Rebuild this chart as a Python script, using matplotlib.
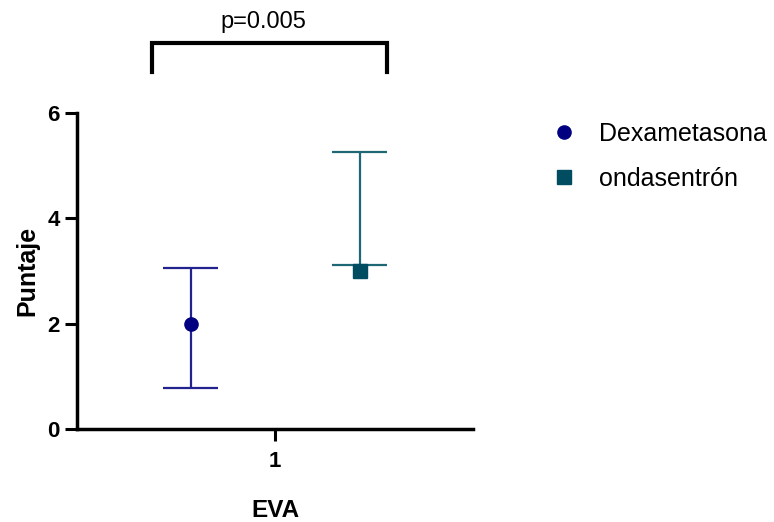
import matplotlib
matplotlib.use("Agg")
import matplotlib.pyplot as plt
from matplotlib.lines import Line2D

plt.rcParams["font.family"] = ["Liberation Sans", "DejaVu Sans"]

# ---------------------------------------------------------------------------
# Data
# ---------------------------------------------------------------------------
groups = ["Dexametasona", "ondasentrón"]
centers = [2.0, 3.0]
err_low = [0.78, 3.11]
err_high = [3.05, 5.26]
x_offsets = [-0.213, 0.213]
x_ticks = [1]
y_ticks = [0, 2, 4, 6]
p_label = "p=0.005"
bracket_x = [0.69, 1.283]
bracket_y = [6.78, 7.32]

marker_colors = ["#000080", "#004D61"]
line_colors = ["#23238F", "#1E6774"]
markers = ["o", "s"]

# ---------------------------------------------------------------------------
# Plot
# ---------------------------------------------------------------------------
fig = plt.figure(figsize=(7.74, 5.22), dpi=100)
ax = fig.add_axes([0.0995, 0.178, 0.512, 0.6055])

for i, name in enumerate(groups):
    x = x_ticks[0] + x_offsets[i]
    # error bar (low/high limits need not surround the point)
    ax.plot([x, x], [err_low[i], err_high[i]], color=line_colors[i], lw=1.6,
            solid_capstyle="butt", zorder=2)
    for yv in (err_low[i], err_high[i]):
        ax.plot([x - 0.07, x + 0.07], [yv, yv], color=line_colors[i], lw=1.6,
                solid_capstyle="butt", zorder=2)
    ax.plot(x, centers[i], marker=markers[i], color=marker_colors[i],
            ms=9.5, ls="none", zorder=3)

ax.set_xlim(0.5, 1.5)
ax.set_ylim(0, 6)
ax.set_xticks(x_ticks)
ax.set_yticks(y_ticks)
ax.tick_params(axis="both", width=2.2, length=8.5, labelsize=16, pad=4)
ax.tick_params(axis="x", pad=7)
for lab in ax.get_xticklabels() + ax.get_yticklabels():
    lab.set_fontweight("bold")

for side in ("top", "right"):
    ax.spines[side].set_visible(False)
for side in ("left", "bottom"):
    ax.spines[side].set_linewidth(2.5)

ax.set_ylabel("Puntaje", fontsize=18, fontweight="bold", labelpad=6)
ax.set_xlabel("EVA", fontsize=17.5, fontweight="bold", labelpad=20)

# significance bracket
ax.plot([bracket_x[0], bracket_x[0], bracket_x[1], bracket_x[1]],
        [bracket_y[0], bracket_y[1], bracket_y[1], bracket_y[0]],
        color="black", lw=3, clip_on=False, solid_joinstyle="miter")
ax.text(sum(bracket_x) / 2 - 0.015, bracket_y[1] + 0.19, p_label,
        ha="center", va="bottom", fontsize=17, clip_on=False)

handles = [Line2D([], [], marker=markers[i], color=marker_colors[i], ls="none",
                  ms=9.5) for i in range(len(groups))]
fig.legend(handles, groups, loc="upper left", bbox_to_anchor=(0.683, 0.81),
           frameon=False, fontsize=18, handletextpad=0.9, labelspacing=0.85,
           handlelength=1.0)

fig.savefig("out.png", dpi=100)
